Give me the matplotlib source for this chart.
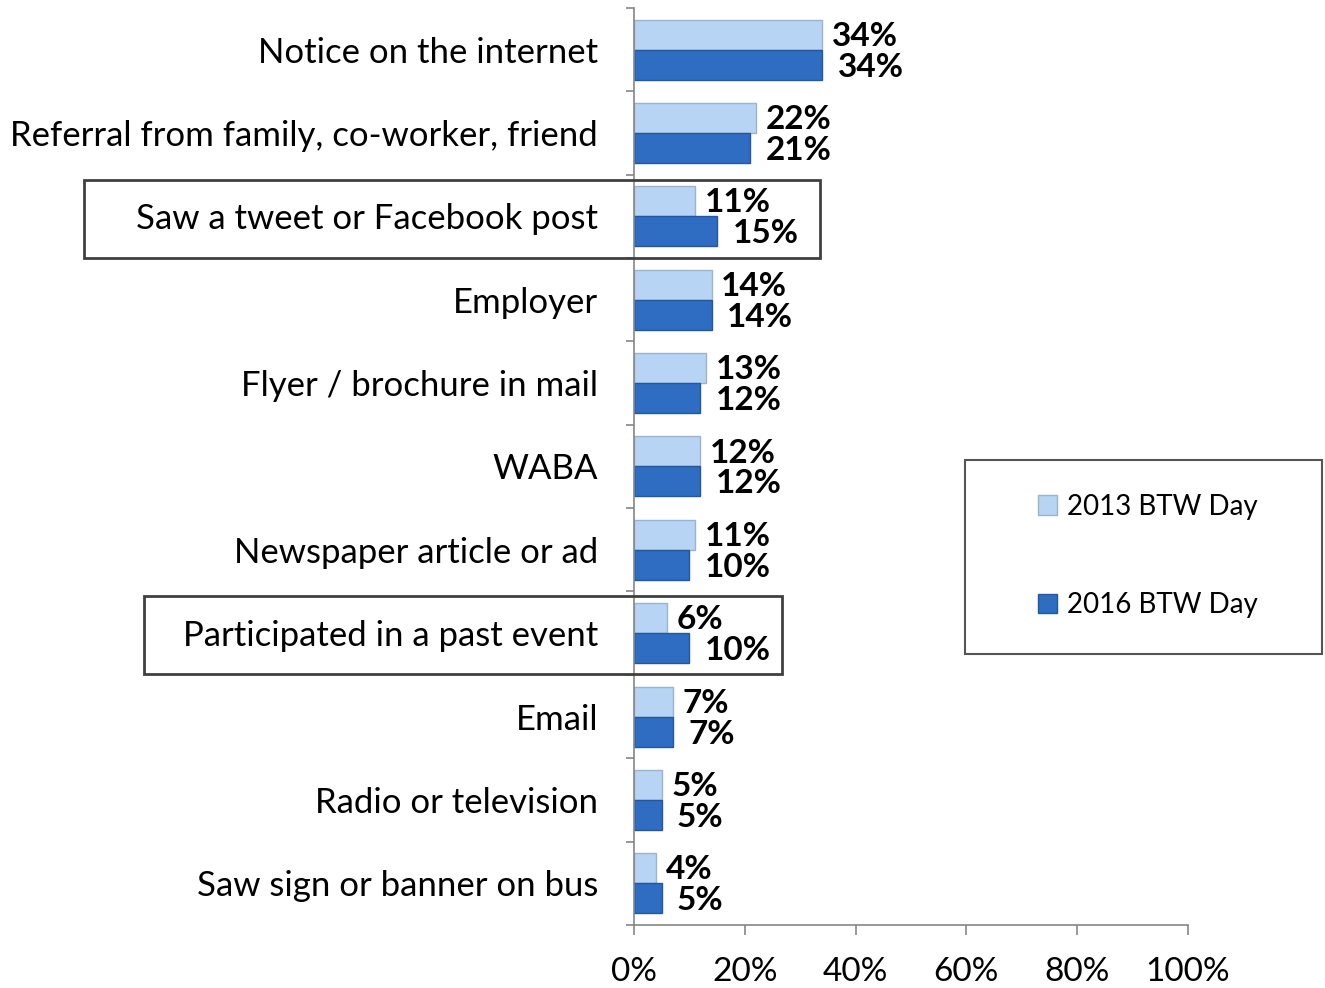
import matplotlib
matplotlib.use("Agg")
import matplotlib.pyplot as plt
from matplotlib.patches import Rectangle
from matplotlib.ticker import FixedLocator, PercentFormatter
import numpy as np

# survey answers, top to bottom
sources = [
    "Notice on the internet",
    "Referral from family, co-worker, friend",
    "Saw a tweet or Facebook post",
    "Employer",
    "Flyer / brochure in mail",
    "WABA",
    "Newspaper article or ad",
    "Participated in a past event",
    "Email",
    "Radio or television",
    "Saw sign or banner on bus",
]
pct_2013 = [34, 22, 11, 14, 13, 12, 11, 6, 7, 5, 4]
pct_2016 = [34, 21, 15, 14, 12, 12, 10, 10, 7, 5, 5]
series_names = ["2013 BTW Day", "2016 BTW Day"]
x_ticks = [0, 20, 40, 60, 80, 100]

# rows that get a frame around them
highlighted = ["Saw a tweet or Facebook post", "Participated in a past event"]

LIGHT = "#B8D4F4"
DARK = "#2E6DC2"
FONT = ["Lato", "DejaVu Sans"]

plt.rcParams["font.family"] = FONT

fig = plt.figure(figsize=(13.25, 9.88), dpi=100)
ax = fig.add_axes([0.4785, 0.0638, 0.4181, 0.9282])

y = np.arange(len(sources))
h = 0.36
ax.barh(y - h / 2, pct_2013, height=h, color=LIGHT, edgecolor="#9DB3CC", linewidth=1)
ax.barh(y + h / 2, pct_2016, height=h, color=DARK, edgecolor="#24579C", linewidth=1)

for i, (a, b) in enumerate(zip(pct_2013, pct_2016)):
    ax.annotate(f"{a}%", (a, i - h / 2 + 0.02), xytext=(7, 0), textcoords="offset points",
                ha="left", va="center", fontsize=24, fontweight="bold")
    ax.annotate(f"{b}%", (b, i + h / 2 + 0.03), xytext=(11, 0), textcoords="offset points",
                ha="left", va="center", fontsize=24, fontweight="bold")

ax.set_xlim(0, 100)
ax.set_ylim(len(sources) - 0.5, -0.5)

ax.xaxis.set_major_locator(FixedLocator(x_ticks))
ax.xaxis.set_major_formatter(PercentFormatter(decimals=0))
ax.set_yticks(y)
ax.set_yticklabels(sources)
ax.yaxis.set_minor_locator(FixedLocator(np.arange(-0.5, len(sources), 1.0)))

ax.tick_params(axis="x", direction="out", length=7, width=1.2, color="#868686",
               labelsize=24, pad=16)
ax.tick_params(axis="y", which="major", length=0, labelsize=25, pad=26)
ax.tick_params(axis="y", which="minor", direction="out", length=6, width=1.2, color="#868686")

for side in ("top", "right"):
    ax.spines[side].set_visible(False)
for side in ("left", "bottom"):
    ax.spines[side].set_color("#868686")
    ax.spines[side].set_linewidth(1.2)

# frames around the highlighted rows (x in data units, reaching into the label area)
box_spans = {
    "Saw a tweet or Facebook post": (-99.3, 33.6, -0.44, 0.50),
    "Participated in a past event": (-88.4, 26.7, -0.44, 0.49),
}
for name in highlighted:
    i = sources.index(name)
    x0, x1, top, bottom = box_spans[name]
    ax.add_patch(Rectangle((x0, i + top), x1 - x0, bottom - top, fill=False,
                           edgecolor="#404040", linewidth=2, clip_on=False, zorder=5))

# legend in its own frame on the right
fig.patches.append(Rectangle((965 / 1325, 1 - 654 / 988), 357 / 1325, 194 / 988,
                             transform=fig.transFigure, fill=False,
                             edgecolor="#555555", linewidth=1.5))
handles = [Rectangle((0, 0), 1, 1, facecolor=LIGHT, edgecolor="#9DB3CC"),
           Rectangle((0, 0), 1, 1, facecolor=DARK, edgecolor="#24579C")]
fig.legend(handles, series_names, loc="center left",
           bbox_to_anchor=(1024 / 1325, 1 - 556 / 988), frameon=False,
           fontsize=20, handlelength=0.7, handleheight=0.7, handletextpad=0.35,
           labelspacing=2.6, borderpad=0)

fig.savefig("out.png", dpi=100)
